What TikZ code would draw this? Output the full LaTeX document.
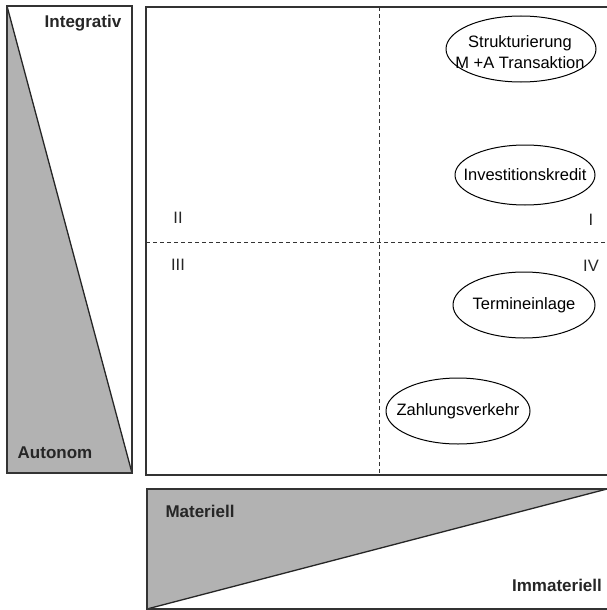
\documentclass[tikz,border=0pt]{standalone}
\usepackage{fontspec}
\setmainfont{Liberation Sans}
\usetikzlibrary{shapes}
\tikzset{
  font={\fontsize{16.5pt}{21pt}\selectfont}}

\begin{document}
\begin{tikzpicture}[x=1pt, y=-1pt]

    \tikzset{frame/.style = {draw=black!80, line width=1.6pt},
             wedge/.style = {fill=gray!60},
             slope/.style = {draw=black!85, line width=1.3pt},
             quad/.style = {draw=black!80, line width=0.8pt, dash pattern=on 4pt off 3pt},
             oval/.style = {draw=black, line width=1pt},
             pole/.style = {font={\fontsize{17pt}{21pt}\selectfont\bfseries}, text=black!85},
             num/.style = {text=black!85}}

    \useasboundingbox (0,0) rectangle (607,610);

    % left scale
    \fill[wedge] (7,6) -- (132,473) -- (7,473) -- cycle;
    \draw[slope] (7,6) -- (132,473);
    \draw[frame] (7,6) rectangle (132,473);
    \node[pole] (integ) at (83,23) {Integrativ};
    \node[pole] (auton) at (55,453) {Autonom};

    % bottom scale
    \fill[wedge] (147,489) -- (607,489) -- (147,609) -- cycle;
    \draw[slope] (607,489) -- (147,609);
    \draw[frame] (607,609) -| (147,489) -- (607,489);
    \node[pole] (mat) at (200,511) {Materiell};
    \node[pole] (immat) at (557,585) {Immateriell};

    % matrix
    \coordinate (top) at (379,7);
    \coordinate (bot) at (379,475);
    \coordinate (lft) at (146,242);
    \coordinate (rgt) at (607,242);
    \draw[quad] (top) -- (bot);
    \draw[quad] (lft) -- (rgt);
    \draw[frame] (607,7) -| (146,475) -- (607,475);

    \node[num] (q2) at (178,218) {II};
    \node[num] (q1) at (591,220) {I};
    \node[num] (q3) at (178,265) {III};
    \node[num] (q4) at (591,266) {IV};

    % products
    \node[align=center] (st) at (520,52) {Strukturierung\\M +A Transaktion};
    \node (inv) at (525,175) {Investitionskredit};
    \node (ter) at (524,305) {Termineinlage};
    \node (zv) at (458,411) {Zahlungsverkehr};
    \draw[oval] (521,49) ellipse [x radius=75, y radius=33];
    \draw[oval] (inv) ellipse [x radius=70, y radius=30];
    \draw[oval] (ter) ellipse [x radius=71, y radius=33];
    \draw[oval] (zv) ellipse [x radius=72, y radius=33];

\end{tikzpicture}
\end{document}
